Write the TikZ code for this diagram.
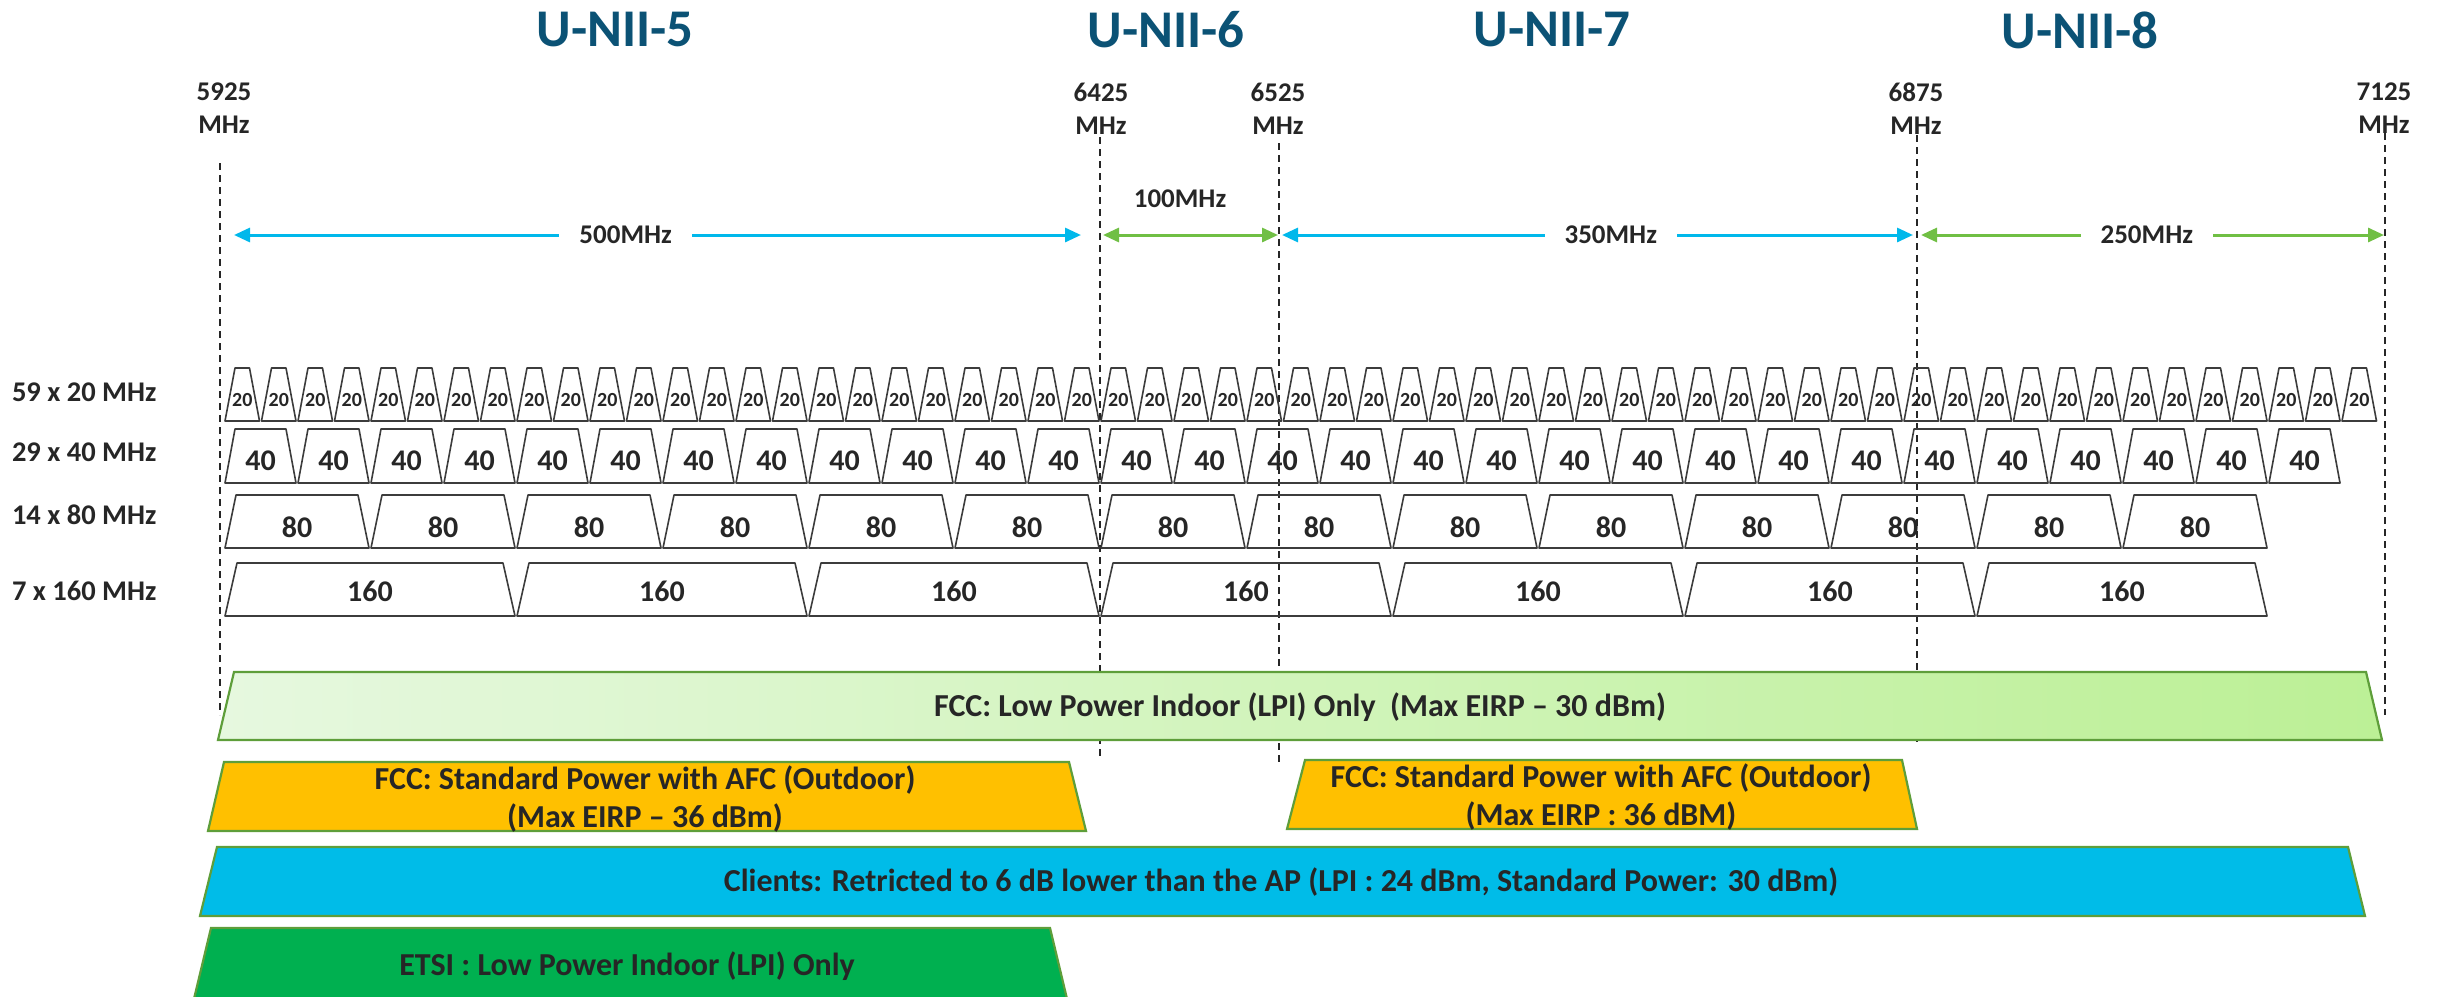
\documentclass[tikz,border=0pt]{standalone}
\usepackage{fontspec}
\setmainfont{Carlito}
\usetikzlibrary{arrows.meta}

\definecolor{uniiblue}{HTML}{0B5275}
\definecolor{spanblue}{HTML}{00B8EB}
\definecolor{spangreen}{HTML}{70BF44}
\definecolor{edgegreen}{HTML}{5E9E3A}
\definecolor{lpileft}{HTML}{E6F8DF}
\definecolor{lpiright}{HTML}{BCF096}
\definecolor{afcorange}{HTML}{FFC000}
\definecolor{clientblue}{HTML}{00BCE8}
\definecolor{etsigreen}{HTML}{00B050}
\definecolor{inkgray}{HTML}{262626}

\begin{document}
\begin{tikzpicture}[
    x=1pt, y=-1pt,
    font=\bfseries, text=inkgray,
    band/.style={text=uniiblue, font=\fontsize{53}{60}\selectfont\bfseries},
    freq/.style={align=center, font=\fontsize{27}{33}\selectfont\bfseries},
    rowlbl/.style={anchor=east, font=\fontsize{28.5}{32}\selectfont\bfseries},
    guide/.style={draw=inkgray, line width=1.8pt, dash pattern=on 7pt off 5pt},
    span/.style={{Triangle[length=16pt,width=14pt]}-{Triangle[length=16pt,width=14pt]},
                 line width=3pt, draw=#1},
    spanlbl/.style={fill=white, inner xsep=20pt, inner ysep=2pt,
                    font=\fontsize{27}{30}\selectfont\bfseries},
    chan/.style={draw=inkgray!90, line width=1.6pt, line join=round},
    rule/.style={draw=edgegreen, line width=2.2pt, fill=#1},
    rulelbl/.style={align=center, font=\fontsize{32}{38}\selectfont\bfseries},
]
\useasboundingbox (0,0) rectangle (2440,996);
\clip (0,0) rectangle (2440,996);

% band names
\node[band] (u5) at (615,30)  {U-NII-5};
\node[band] (u6) at (1166,30) {U-NII-6};
\node[band] (u7) at (1552,30) {U-NII-7};
\node[band] (u8) at (2080,30) {U-NII-8};

% band edges
\node[freq] (f5925) at (224,108.5)  {5925\\MHz};
\node[freq] (f6425) at (1101,108.5) {6425\\MHz};
\node[freq] (f6525) at (1278,108.5) {6525\\MHz};
\node[freq] (f6875) at (1916,108.5) {6875\\MHz};
\node[freq] (f7125) at (2384,108.5) {7125\\MHz};

\foreach \n/\x/\t/\b in {5925/220/163/715, 6425/1100/137/757, 6525/1279/143/762,
                         6875/1917/135/745, 7125/2385/133/715} {
    \draw[guide] (\x,\t) -- (\x,\b);
    \coordinate (k\n) at (\x,235);
}

% band widths
\draw[span=spanblue, shorten <=14pt, shorten >=19pt] (k5925) --
    node[spanlbl, pos=0.461] (w500) {500MHz} (k6425);
\draw[span=spangreen, shorten <=3pt, shorten >=1pt] (k6425) --
    node[pos=0.447, above=22pt, font=\fontsize{27}{30}\selectfont\bfseries] (w100) {100MHz} (k6525);
\draw[span=spanblue, shorten <=3pt, shorten >=4pt] (k6525) --
    node[spanlbl, pos=0.52] (w350) {350MHz} (k6875);
\draw[span=spangreen, shorten <=4pt, shorten >=1pt] (k6875) --
    node[spanlbl, pos=0.491] (w250) {250MHz} (k7125);

% channel rows
\node[rowlbl] (r20)  at (160,392) {59 x 20 MHz};
\node[rowlbl] (r40)  at (160,452) {29 x 40 MHz};
\node[rowlbl] (r80)  at (160,515) {14 x 80 MHz};
\node[rowlbl] (r160) at (160,591) {7 x 160 MHz};

\foreach \w/\n/\top/\bot/\ty/\d/\fs in {1/59/368/421/400/10/20, 2/29/429/483/461/10/30,
                                        4/14/495/548/527/11/30, 8/7/563/616/591/12/30} {
    \pgfmathtruncatemacro\mhz{20*\w}
    \foreach \k in {1,...,\n} {
        \pgfmathsetmacro\xl{224+(\k-1)*\w*36.5+1}
        \pgfmathsetmacro\xr{224+\k*\w*36.5-1}
        \draw[chan] (\xl,\bot) -- (\xl+\d,\top) -- (\xr-\d,\top) -- (\xr,\bot) -- cycle;
        \node[font=\fontsize{\fs}{\fs}\selectfont\bfseries] (c\mhz-\k)
            at ({(\xl+\xr)/2},\ty) {\mhz};
    }
}

% power rules
\draw[rule=lpileft, left color=lpileft, right color=lpiright]
    (218,740) -- (234,672) -- (2366,672) -- (2382,740) -- cycle;
\node[rulelbl] (lpi) at (1300,707) {FCC: Low Power Indoor (LPI) Only\ \ (Max EIRP -- 30 dBm)};

\draw[rule=afcorange] (208,831) -- (224,762) -- (1069,762) -- (1086,831) -- cycle;
\node[rulelbl] (afc5) at (645,799) {FCC: Standard Power with AFC (Outdoor)\\(Max EIRP -- 36 dBm)};

\draw[rule=afcorange] (1287,829) -- (1305,760) -- (1902,760) -- (1917,829) -- cycle;
\node[rulelbl] (afc7) at (1601,797) {FCC: Standard Power with AFC (Outdoor)\\(Max EIRP : 36 dBM)};

\draw[rule=clientblue] (200,916) -- (217,847) -- (2348,847) -- (2365,916) -- cycle;
\node[rulelbl] (cli) at (1281,882)
    {Clients: Retricted to 6 dB lower than the AP (LPI : 24 dBm, Standard Power: 30 dBm)};

\draw[rule=etsigreen] (193,1003) -- (211,928) -- (1050,928) -- (1068,1003) -- cycle;
\node[rulelbl] (etsi) at (627,966) {ETSI : Low Power Indoor (LPI) Only};
\end{tikzpicture}
\end{document}
